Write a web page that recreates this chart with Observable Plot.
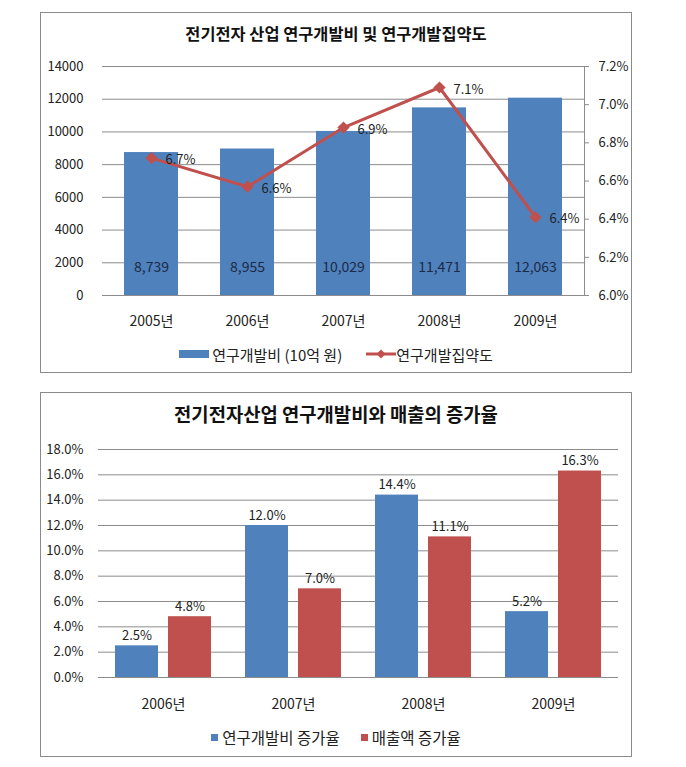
<!DOCTYPE html>
<html><head><meta charset="utf-8">
<script src="https://cdn.jsdelivr.net/npm/d3@7"></script>
<script src="https://cdn.jsdelivr.net/npm/@observablehq/plot@0.6"></script>
<style>
  body { margin:0; background:#fff; font-family:"Noto Sans CJK KR","Noto Sans",sans-serif; color:#222; }
  .panel { position:absolute; left:40px; width:590px; border:1px solid #8a8a8a; background:#fff; }
  .title { position:absolute; left:0; width:100%; text-align:center; font-weight:bold; color:#111; white-space:nowrap; }
  .chart { position:absolute; left:0; }
  .legend { position:absolute; left:0; width:100%; display:flex; justify-content:center; align-items:center; white-space:nowrap; color:#222; }
  .item { display:flex; align-items:center; }
</style>
</head><body>
<div id="p1" class="panel" style="top:12px;height:359px;">
  <div class="title" style="top:8px;font-size:16.4px;line-height:24px;">전기전자 산업 연구개발비 및 연구개발집약도</div>
  <div id="c1" class="chart" style="top:40px;"></div>
  <div id="l1" class="legend" style="top:331px;height:20px;font-size:15px;"></div>
</div>
<div id="p2" class="panel" style="top:392px;height:363px;">
  <div class="title" style="top:7px;font-size:18.8px;line-height:28px;">전기전자산업 연구개발비와 매출의 증가율</div>
  <div id="c2" class="chart" style="top:40px;"></div>
  <div id="l2" class="legend" style="top:334px;height:20px;font-size:15.5px;"></div>
</div>
<script>
// ---- Chart 1 data ----
const years = ["2005년", "2006년", "2007년", "2008년", "2009년"];
const rdSpend = [8739, 8955, 10029, 11471, 12063];          // 10억 원
const rdIntensity = [6.72, 6.57, 6.88, 7.09, 6.41];        // %
const leftTicks = [0, 2000, 4000, 6000, 8000, 10000, 12000, 14000];
const rightTicks = [6.0, 6.2, 6.4, 6.6, 6.8, 7.0, 7.2];
const legend1 = ["연구개발비 (10억 원)", "연구개발집약도"];

// ---- Chart 2 data ----
const growthYears = ["2006년", "2007년", "2008년", "2009년"];
const rdGrowth = [2.5, 12.0, 14.4, 5.2];
const salesGrowth = [4.8, 7.0, 11.1, 16.3];
const growthTicks = [0, 2, 4, 6, 8, 10, 12, 14, 16, 18];
const seriesNames = ["연구개발비 증가율", "매출액 증가율"];

const BLUE = "#4F81BD", RED = "#C0504D", GRID = "#8c8c8c";
const FONT = '"Noto Sans CJK KR","Noto Sans",sans-serif';

// ---- Chart 1 ----
const topData = years.map((y, i) => ({year: y, spend: rdSpend[i], intensity: rdIntensity[i]}));
const rightMap = d3.scaleLinear().domain([rightTicks[0], rightTicks[rightTicks.length - 1]]).range([leftTicks[0], leftTicks[leftTicks.length - 1]]);

const chart1 = Plot.plot({
  width: 590, height: 282,
  marginLeft: 61, marginRight: 47, marginTop: 13, marginBottom: 40,
  style: {fontFamily: FONT, fontSize: "13px", color: "#222", background: "transparent", overflow: "visible"},
  x: {domain: years, paddingInner: 0.44, paddingOuter: 0.22, label: null},
  y: {domain: [leftTicks[0], leftTicks[leftTicks.length - 1]], label: null},
  marks: [
    Plot.ruleY(leftTicks, {stroke: GRID, strokeWidth: 1}),
    Plot.barY(topData, {x: "year", y: "spend", fill: BLUE}),
    Plot.axisY({ticks: leftTicks, tickSize: 0, tickPadding: 19, tickFormat: d => String(d), fontSize: 13}),
    Plot.axisY({anchor: "right", ticks: rightTicks.map(t => rightMap(t)), tickFormat: d => rightMap.invert(d).toFixed(1) + "%", tickSize: 4, tickPadding: 10, stroke: GRID, fontSize: 13}),
    Plot.frame({anchor: "right", stroke: GRID}),
    Plot.axisX({tickSize: 0, tickPadding: 21, fontSize: 14}),
    Plot.text(topData, {x: "year", frameAnchor: "bottom", dy: -24, text: d => d3.format(",")(d.spend), fill: "#1b2a47", fontSize: 14}),
    Plot.line(topData, {x: "year", y: d => rightMap(d.intensity), stroke: RED, strokeWidth: 3}),
    Plot.dot(topData, {x: "year", y: d => rightMap(d.intensity), symbol: "diamond2", r: 5.5, fill: RED, stroke: null}),
    Plot.text(topData, {x: "year", y: d => rightMap(d.intensity), text: d => d.intensity.toFixed(1) + "%", textAnchor: "start", dx: 14, dy: 2, fill: "#222", fontSize: 13})
  ]
});
document.getElementById("c1").appendChild(chart1);

// legend 1
document.getElementById("l1").innerHTML =
  `<span class="item"><svg width="30" height="8" style="margin-right:3px"><rect width="30" height="8" fill="${BLUE}"/></svg>${legend1[0]}</span>` +
  `<span class="item" style="margin-left:24px"><svg width="30" height="12"><line x1="0" x2="30" y1="6" y2="6" stroke="${RED}" stroke-width="3"/><path d="M15,1.5L19.5,6L15,10.5L10.5,6Z" fill="${RED}"/></svg>${legend1[1]}</span>`;

// ---- Chart 2 ----
const growthRows = growthYears.flatMap((yr, i) => [
  {year: yr, series: seriesNames[0], value: rdGrowth[i]},
  {year: yr, series: seriesNames[1], value: salesGrowth[i]}
]);

const chart2 = Plot.plot({
  width: 590, height: 287,
  marginLeft: 57, marginRight: 13, marginTop: 16, marginBottom: 43,
  style: {fontFamily: FONT, fontSize: "13px", color: "#222", background: "transparent", overflow: "visible"},
  fx: {domain: growthYears, padding: 0, label: null},
  x: {domain: seriesNames, paddingInner: 0.185, paddingOuter: 0.30, axis: null, label: null},
  y: {domain: [growthTicks[0], growthTicks[growthTicks.length - 1]], label: null},
  color: {domain: seriesNames, range: [BLUE, RED]},
  marks: [
    Plot.ruleY(growthTicks, {stroke: GRID, strokeWidth: 1}),
    Plot.barY(growthRows, {fx: "year", x: "series", y: "value", fill: "series"}),
    Plot.text(growthRows, {fx: "year", x: "series", y: "value", text: d => d.value.toFixed(1) + "%", lineAnchor: "bottom", dy: -6, fill: "#222", fontSize: 13}),
    Plot.axisY({ticks: growthTicks, tickSize: 0, tickPadding: 15, tickFormat: d => d.toFixed(1) + "%", fontSize: 13}),
    Plot.axisFx({anchor: "bottom", tickSize: 0, tickPadding: 22, fontSize: 14})
  ]
});
document.getElementById("c2").appendChild(chart2);

// legend 2
document.getElementById("l2").innerHTML =
  `<span class="item"><svg width="7" height="7" style="margin-right:4px"><rect width="7" height="7" fill="${BLUE}"/></svg>${seriesNames[0]}</span>` +
  `<span class="item" style="margin-left:21px"><svg width="7" height="7" style="margin-right:4px"><rect width="7" height="7" fill="${RED}"/></svg>${seriesNames[1]}</span>`;
</script>
</body></html>
